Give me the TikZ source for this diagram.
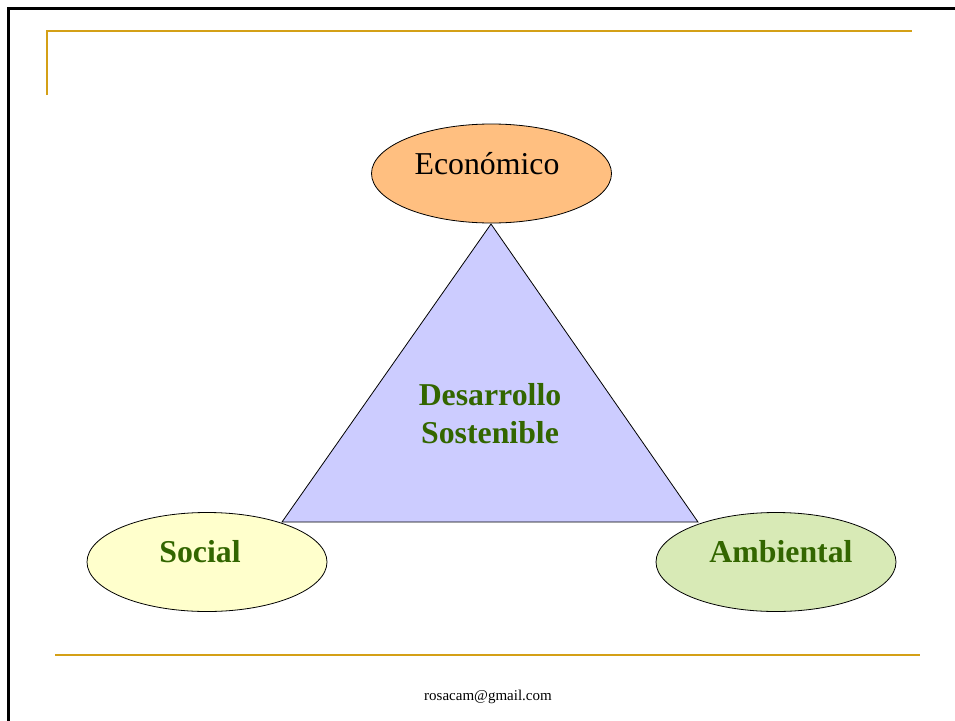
\documentclass[tikz,border=0pt]{standalone}
\usepackage{fontspec}
\setmainfont{Liberation Serif}
\usepackage{tikz}
\usetikzlibrary{shapes.geometric}
\pgfdeclarelayer{bg}
\pgfsetlayers{bg,main}
\definecolor{gold}{RGB}{212,160,23}
\definecolor{darkgreen}{RGB}{51,102,0}
\definecolor{econfill}{RGB}{255,191,128}
\definecolor{socfill}{RGB}{255,255,204}
\definecolor{ambfill}{RGB}{216,234,182}
\definecolor{trifill}{RGB}{204,204,255}
\tikzset{oval/.style={draw, ellipse, line width=0.8pt, minimum width=240pt, minimum height=99pt, inner sep=0pt},
         lbl/.style={font=\fontsize{31.8}{38}\selectfont, inner sep=0pt},
         bold/.style={lbl, font=\fontsize{31.8}{38}\selectfont\bfseries, text=darkgreen},
         rule/.style={gold, line width=2pt}}

\begin{document}
\begin{tikzpicture}[x=1pt, y=-1pt]
    \useasboundingbox (0,0) rectangle (955,720);

    % frame
    \coordinate (ftl) at (8.5, 8.5);
    \coordinate (fbl) at (8.5, 722);
    \coordinate (ftr) at (957, 8.5);
    \draw [line width=3pt] (fbl) -- (ftl) -- (ftr);

    \coordinate (gv) at (47, 95);
    \coordinate (gc) at (47, 31);
    \coordinate (gr) at (912, 31);
    \draw [rule] (gv) -- (gc) -- (gr);
    \coordinate (bl) at (55, 655);
    \coordinate (br) at (920, 655);
    \draw [rule] (bl) -- (br);

    \node (eco) at (491.5, 173.5) [oval, fill=econfill] {};
    \node (soc) at (207, 562) [oval, fill=socfill] {};
    \node (amb) at (776, 562) [oval, fill=ambfill] {};

    \coordinate (top) at (491, 224);
    \coordinate (left) at (282, 522);
    \coordinate (right) at (698, 522);

    \begin{pgfonlayer}{bg}
        \filldraw [fill=trifill, line width=0.8pt] (top) -- (left) -- (right) -- cycle;
    \end{pgfonlayer}

    \node (ecoT) at (487, 164) [lbl] {Económico};
    \node (socT) at (200, 552) [bold] {Social};
    \node (ambT) at (781, 552) [bold] {Ambiental};
    \node (ds) at (490, 414) [bold, align=center] {Desarrollo\\Sostenible};

    \node (mail) at (488, 697) [font=\fontsize{15}{18}\selectfont, inner sep=0pt] {rosacam@gmail.com};
\end{tikzpicture}
\end{document}
